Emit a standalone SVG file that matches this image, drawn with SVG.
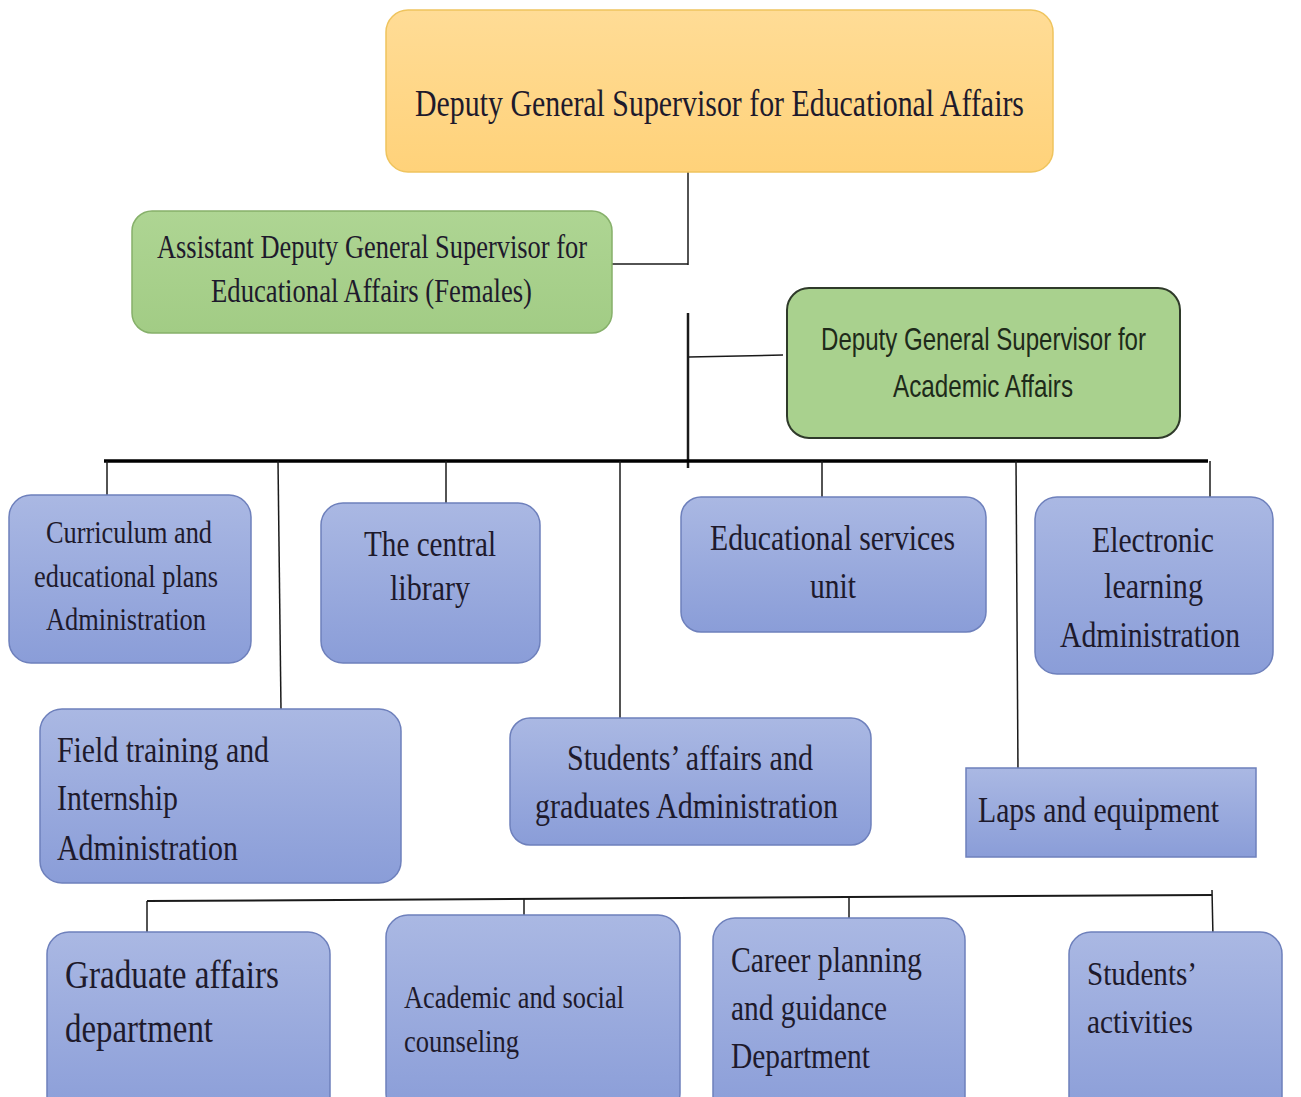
<svg xmlns="http://www.w3.org/2000/svg" width="1301" height="1097" viewBox="0 0 1301 1097">
  <defs>
    <linearGradient id="gBlue" x1="0" y1="0" x2="0" y2="1">
      <stop offset="0" stop-color="#AAB8E3"/>
      <stop offset="1" stop-color="#8A9DD8"/>
    </linearGradient>
    <linearGradient id="gOrange" x1="0" y1="0" x2="0" y2="1">
      <stop offset="0" stop-color="#FFDC96"/>
      <stop offset="1" stop-color="#FFD27A"/>
    </linearGradient>
    <linearGradient id="gGreen" x1="0" y1="0" x2="0" y2="1">
      <stop offset="0" stop-color="#AED593"/>
      <stop offset="1" stop-color="#A2CC85"/>
    </linearGradient>
  </defs>
  <style>
    .blue { fill: url(#gBlue); stroke: #6E80BC; stroke-width: 1.5; }
    .orange { fill: url(#gOrange); stroke: #EFC45E; stroke-width: 1.5; }
    .green { fill: url(#gGreen); stroke: #86B06A; stroke-width: 1.5; }
    .green2 { fill: #A9D18E; stroke: #2F3A2A; stroke-width: 2; }
    .t { font-family: "Liberation Serif", "Times New Roman", serif; fill: #1E1A2C; }
    .s { font-family: "Liberation Sans", Arial, sans-serif; fill: #1E2A1A; }
    .ln { stroke: #1a1a1a; stroke-width: 1.5; fill: none; }
    .bar { stroke: #000; stroke-width: 3.5; fill: none; }
  </style>
  <rect width="1301" height="1097" fill="#FFFFFF"/>

  <!-- connectors -->
  <g id="connectors">
    <line class="ln" x1="688" y1="172" x2="688" y2="265"/>
    <line class="ln" x1="612" y1="264" x2="688" y2="264"/>
    <line class="ln" x1="688" y1="313" x2="688" y2="468" style="stroke-width:2.5"/>
    <line class="ln" x1="689" y1="357" x2="783" y2="355"/>
    <line class="bar" x1="104" y1="461" x2="1208" y2="461"/>
    <line class="ln" x1="107" y1="461" x2="107" y2="495"/>
    <line class="ln" x1="278" y1="461" x2="281" y2="709"/>
    <line class="ln" x1="446" y1="461" x2="446" y2="503"/>
    <line class="ln" x1="620" y1="461" x2="620" y2="718"/>
    <line class="ln" x1="822" y1="461" x2="822" y2="497"/>
    <line class="ln" x1="1016" y1="461" x2="1018" y2="772"/>
    <line class="ln" x1="1210" y1="461" x2="1210" y2="497"/>
    <line class="ln" x1="147" y1="901" x2="1212" y2="895" style="stroke-width:2"/>
    <line class="ln" x1="147" y1="901" x2="147" y2="932"/>
    <line class="ln" x1="524" y1="899" x2="524" y2="915"/>
    <line class="ln" x1="849" y1="898" x2="849" y2="918"/>
    <line class="ln" x1="1212" y1="890" x2="1213" y2="938"/>
  </g>

  <g id="deputy-educational">
    <rect class="orange" x="386" y="10" width="667" height="162" rx="22"/>
    <text class="t" x="415" y="116" font-size="37" textLength="609" lengthAdjust="spacingAndGlyphs">Deputy General Supervisor for Educational Affairs</text>
  </g>

  <g id="assistant-deputy">
    <rect class="green" x="132" y="211" width="480" height="122" rx="20"/>
    <text class="t" x="157" y="258" font-size="34" textLength="430" lengthAdjust="spacingAndGlyphs">Assistant Deputy General Supervisor for</text>
    <text class="t" x="211" y="302" font-size="34" textLength="321" lengthAdjust="spacingAndGlyphs">Educational Affairs (Females)</text>
  </g>

  <g id="deputy-academic">
    <rect class="green2" x="787" y="288" width="393" height="150" rx="22"/>
    <text class="s" x="821" y="350" font-size="32" textLength="325" lengthAdjust="spacingAndGlyphs">Deputy General Supervisor for</text>
    <text class="s" x="893" y="397" font-size="32" textLength="180" lengthAdjust="spacingAndGlyphs">Academic Affairs</text>
  </g>

  <g id="curriculum">
    <rect class="blue" x="9" y="495" width="242" height="168" rx="22"/>
    <text class="t" x="46" y="543" font-size="31" textLength="166" lengthAdjust="spacingAndGlyphs">Curriculum and</text>
    <text class="t" x="34" y="587" font-size="31" textLength="184" lengthAdjust="spacingAndGlyphs">educational plans</text>
    <text class="t" x="46" y="630" font-size="31" textLength="160" lengthAdjust="spacingAndGlyphs">Administration</text>
  </g>

  <g id="central-library">
    <rect class="blue" x="321" y="503" width="219" height="160" rx="22"/>
    <text class="t" x="364" y="556" font-size="35" textLength="132" lengthAdjust="spacingAndGlyphs">The central</text>
    <text class="t" x="390" y="600" font-size="35" textLength="80" lengthAdjust="spacingAndGlyphs">library</text>
  </g>

  <g id="educational-services">
    <rect class="blue" x="681" y="497" width="305" height="135" rx="20"/>
    <text class="t" x="710" y="550" font-size="35" textLength="245" lengthAdjust="spacingAndGlyphs">Educational services</text>
    <text class="t" x="810" y="598" font-size="35" textLength="46" lengthAdjust="spacingAndGlyphs">unit</text>
  </g>

  <g id="electronic-learning">
    <rect class="blue" x="1035" y="497" width="238" height="177" rx="22"/>
    <text class="t" x="1092" y="552" font-size="35" textLength="122" lengthAdjust="spacingAndGlyphs">Electronic</text>
    <text class="t" x="1104" y="598" font-size="35" textLength="99" lengthAdjust="spacingAndGlyphs">learning</text>
    <text class="t" x="1060" y="647" font-size="35" textLength="180" lengthAdjust="spacingAndGlyphs">Administration</text>
  </g>

  <g id="field-training">
    <rect class="blue" x="40" y="709" width="361" height="174" rx="22"/>
    <text class="t" x="57" y="762" font-size="35" textLength="212" lengthAdjust="spacingAndGlyphs">Field training and</text>
    <text class="t" x="57" y="810" font-size="35" textLength="121" lengthAdjust="spacingAndGlyphs">Internship</text>
    <text class="t" x="57" y="860" font-size="35" textLength="181" lengthAdjust="spacingAndGlyphs">Administration</text>
  </g>

  <g id="students-affairs">
    <rect class="blue" x="510" y="718" width="361" height="127" rx="20"/>
    <text class="t" x="567" y="770" font-size="35" textLength="246" lengthAdjust="spacingAndGlyphs">Students’ affairs and</text>
    <text class="t" x="535" y="818" font-size="35" textLength="303" lengthAdjust="spacingAndGlyphs">graduates Administration</text>
  </g>

  <g id="laps-equipment">
    <rect class="blue" x="966" y="768" width="290" height="89"/>
    <text class="t" x="978" y="822" font-size="35" textLength="241" lengthAdjust="spacingAndGlyphs">Laps and equipment</text>
  </g>

  <g id="graduate-affairs">
    <rect class="blue" x="47" y="932" width="283" height="190" rx="22"/>
    <text class="t" x="65" y="988" font-size="39" textLength="214" lengthAdjust="spacingAndGlyphs">Graduate affairs</text>
    <text class="t" x="65" y="1042" font-size="39" textLength="148" lengthAdjust="spacingAndGlyphs">department</text>
  </g>

  <g id="academic-social">
    <rect class="blue" x="386" y="915" width="294" height="200" rx="22"/>
    <text class="t" x="404" y="1008" font-size="31" textLength="220" lengthAdjust="spacingAndGlyphs">Academic and social</text>
    <text class="t" x="404" y="1052" font-size="31" textLength="115" lengthAdjust="spacingAndGlyphs">counseling</text>
  </g>

  <g id="career-planning">
    <rect class="blue" x="713" y="918" width="252" height="200" rx="22"/>
    <text class="t" x="731" y="972" font-size="35" textLength="191" lengthAdjust="spacingAndGlyphs">Career planning</text>
    <text class="t" x="731" y="1020" font-size="35" textLength="156" lengthAdjust="spacingAndGlyphs">and guidance</text>
    <text class="t" x="731" y="1068" font-size="35" textLength="139" lengthAdjust="spacingAndGlyphs">Department</text>
  </g>

  <g id="students-activities">
    <rect class="blue" x="1069" y="932" width="213" height="190" rx="22"/>
    <text class="t" x="1087" y="985" font-size="33" textLength="110" lengthAdjust="spacingAndGlyphs">Students’</text>
    <text class="t" x="1087" y="1033" font-size="33" textLength="106" lengthAdjust="spacingAndGlyphs">activities</text>
  </g>
</svg>
